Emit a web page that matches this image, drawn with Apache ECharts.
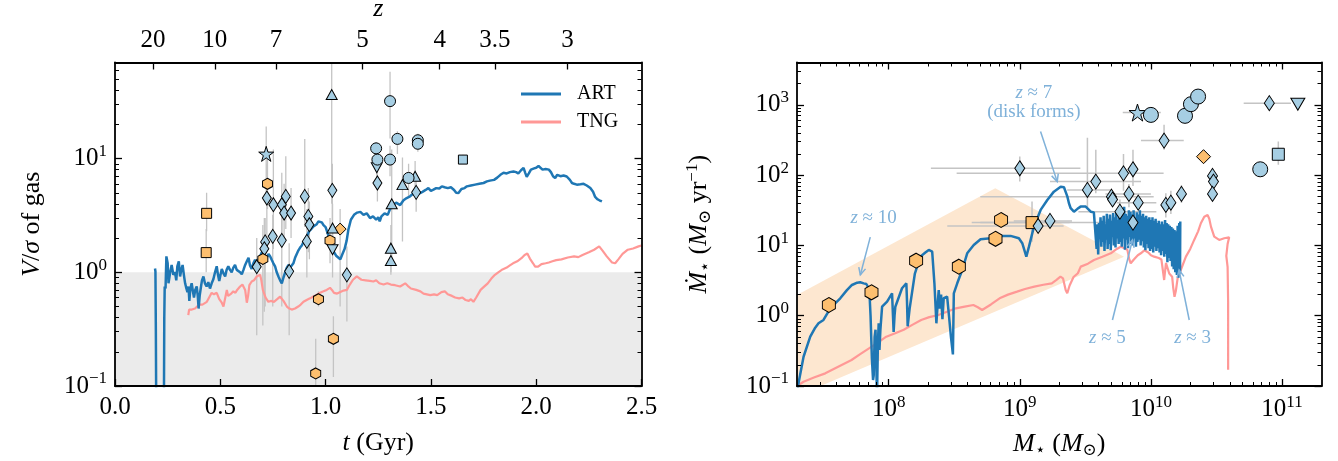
<!DOCTYPE html>
<html>
<head>
<meta charset="utf-8">
<script src="https://cdn.jsdelivr.net/npm/echarts@6/dist/echarts.min.js"></script>
<style>
  html, body { margin: 0; padding: 0; background: #fff; }
  #chart { width: 1338px; height: 461px; }
</style>
</head>
<body>
<div id="chart"></div>
<script>
// ---------- left panel: V/sigma of gas vs cosmic time ----------
// redshift labels of the top axis and the cosmic time (Gyr) at which each sits
const zTickLabels = ['20', '10', '7', '5', '4', '3.5', '3'];
const zTickAges   = [0.180, 0.474, 0.764, 1.175, 1.542, 1.804, 2.149];

// simulated tracks: [t (Gyr), V/sigma]
const artVsigma = [
  [0.190,1.08],[0.192,1.02],[0.194,0.30],[0.196,0.05],
  [0.232,0.05],[0.234,0.40],[0.236,0.75],[0.240,0.72],[0.244,1.38],[0.250,1.20],[0.254,0.80],[0.262,1.00],
  [0.269,1.16],[0.277,0.95],[0.285,1.00],[0.291,0.85],[0.296,1.13],[0.303,1.25],[0.309,0.92],[0.315,1.05],
  [0.321,1.16],[0.327,0.95],[0.333,0.80],[0.339,0.72],[0.344,0.67],[0.349,0.75],[0.353,0.56],[0.358,0.72],
  [0.364,0.80],[0.370,0.68],[0.375,0.60],[0.381,0.70],[0.388,0.75],[0.393,0.62],[0.397,0.48],[0.402,0.62],
  [0.407,0.72],[0.413,0.85],[0.420,0.92],[0.427,0.80],[0.435,0.75],[0.443,0.82],[0.451,0.72],[0.459,0.80],
  [0.467,0.87],[0.475,1.00],[0.483,1.13],[0.489,0.95],[0.495,0.84],[0.501,0.95],[0.507,1.07],[0.515,0.98],
  [0.523,0.92],[0.530,1.05],[0.538,1.13],[0.546,1.05],[0.554,1.00],[0.562,1.10],[0.570,1.16],[0.578,1.05],
  [0.586,1.09],[0.594,1.00],[0.602,0.96],[0.610,1.05],[0.618,1.16],[0.626,1.25],[0.634,1.34],[0.641,1.15],
  [0.649,1.07],[0.657,1.20],[0.665,1.29],[0.673,1.20],[0.681,1.23],[0.689,1.38],[0.697,1.50],[0.705,1.30],
  [0.713,1.23],[0.721,1.35],[0.729,1.45],[0.737,1.38],[0.744,1.29],[0.752,1.20],[0.760,1.13],[0.768,1.00],
  [0.776,0.92],[0.784,0.85],[0.792,0.80],[0.800,0.90],[0.808,1.00],[0.816,1.10],[0.824,1.16],[0.832,1.10],
  [0.839,1.09],[0.847,1.20],[0.855,1.34],[0.863,1.45],[0.871,1.56],[0.879,1.65],[0.887,1.72],[0.895,1.85],
  [0.903,1.93],[0.912,2.10],[0.922,2.30],[0.932,2.40],[0.942,2.53],[0.950,2.45],[0.958,2.65],[0.966,2.80],
  [0.974,2.70],[0.982,2.75],[0.990,2.60],[1.000,2.50],[1.010,2.20],[1.020,1.90],[1.030,1.70],[1.040,1.50],
  [1.050,1.40],[1.060,1.35],[1.070,1.30],[1.080,1.45],[1.090,1.60],[1.100,1.90],[1.108,2.37],[1.120,2.90],
  [1.135,3.20],[1.150,3.35],[1.165,3.40],[1.180,3.20],[1.195,3.30],[1.211,3.00],[1.225,3.10],[1.240,2.90],
  [1.250,3.05],[1.257,2.80],[1.265,3.10],[1.280,3.30],[1.295,3.20],[1.306,3.60],[1.320,3.90],[1.335,4.10],
  [1.354,3.90],[1.370,4.30],[1.385,4.50],[1.401,4.66],[1.415,4.90],[1.430,4.80],[1.449,4.98],[1.460,5.10],
  [1.475,5.30],[1.488,5.50],[1.500,5.20],[1.512,5.33],[1.525,5.50],[1.540,5.45],[1.552,5.70],[1.565,5.60],
  [1.580,5.50],[1.595,5.60],[1.610,5.30],[1.620,5.00],[1.631,4.98],[1.645,5.40],[1.660,5.50],[1.671,5.70],
  [1.690,5.80],[1.710,5.90],[1.730,6.00],[1.750,6.10],[1.766,6.30],[1.780,6.40],[1.800,6.50],[1.815,6.80],
  [1.830,7.20],[1.845,7.50],[1.860,7.40],[1.875,7.60],[1.892,7.70],[1.905,7.60],[1.915,7.40],[1.928,7.90],
  [1.940,8.30],[1.948,7.50],[1.955,6.90],[1.965,7.40],[1.975,8.00],[1.990,8.20],[2.000,8.30],[2.011,8.60],
  [2.020,8.30],[2.030,8.00],[2.045,8.10],[2.060,8.00],[2.070,7.60],[2.080,7.00],[2.090,6.75],[2.100,7.20],
  [2.115,7.00],[2.130,7.10],[2.145,6.96],[2.160,6.50],[2.170,6.10],[2.180,6.00],[2.193,5.90],[2.210,5.95],
  [2.225,6.00],[2.240,5.80],[2.257,5.50],[2.270,5.10],[2.280,4.60],[2.290,4.40],[2.300,4.30],[2.312,4.20]
];
const tngVsigma = [
  [0.348,0.42],[0.352,0.47],[0.365,0.47],[0.380,0.48],[0.390,0.50],[0.400,0.52],[0.415,0.52],[0.436,0.55],
  [0.447,0.60],[0.459,0.66],[0.470,0.64],[0.483,0.66],[0.495,0.58],[0.507,0.54],[0.515,0.50],[0.523,0.52],
  [0.531,0.70],[0.537,0.62],[0.545,0.60],[0.552,0.65],[0.562,0.68],[0.572,0.66],[0.580,0.70],[0.594,0.75],
  [0.605,0.78],[0.612,0.80],[0.618,0.70],[0.626,0.54],[0.632,0.62],[0.638,0.77],[0.649,0.83],[0.660,0.85],
  [0.673,0.92],[0.682,0.93],[0.689,0.95],[0.695,0.85],[0.702,0.70],[0.715,0.60],[0.728,0.55],[0.740,0.56],
  [0.755,0.55],[0.770,0.58],[0.784,0.61],[0.800,0.56],[0.816,0.50],[0.828,0.48],[0.839,0.47],[0.855,0.48],
  [0.870,0.50],[0.882,0.52],[0.895,0.55],[0.910,0.57],[0.926,0.59],[0.940,0.61],[0.955,0.63],[0.974,0.66],
  [0.990,0.68],[1.005,0.70],[1.021,0.73],[1.030,0.70],[1.040,0.66],[1.055,0.65],[1.070,0.67],[1.085,0.69],
  [1.101,0.70],[1.115,0.78],[1.130,0.86],[1.148,0.92],[1.156,0.89],[1.170,0.86],[1.190,0.85],[1.210,0.84],
  [1.227,0.83],[1.240,0.85],[1.255,0.80],[1.275,0.78],[1.293,0.80],[1.310,0.78],[1.330,0.77],[1.354,0.75],
  [1.378,0.80],[1.390,0.76],[1.405,0.72],[1.430,0.70],[1.450,0.68],[1.465,0.65],[1.497,0.63],[1.515,0.64],
  [1.530,0.63],[1.550,0.67],[1.566,0.68],[1.580,0.64],[1.600,0.62],[1.615,0.60],[1.634,0.59],[1.650,0.60],
  [1.665,0.57],[1.680,0.56],[1.690,0.58],[1.702,0.55],[1.715,0.60],[1.736,0.70],[1.750,0.74],[1.770,0.80],
  [1.787,0.88],[1.804,0.95],[1.820,1.00],[1.840,1.06],[1.860,1.10],[1.875,1.15],[1.890,1.20],[1.910,1.25],
  [1.930,1.33],[1.945,1.42],[1.958,1.46],[1.970,1.32],[1.985,1.20],[1.995,1.12],[2.009,1.12],[2.025,1.18],
  [2.045,1.20],[2.060,1.22],[2.077,1.25],[2.095,1.28],[2.120,1.30],[2.150,1.35],[2.180,1.38],[2.200,1.36],
  [2.220,1.42],[2.250,1.50],[2.275,1.58],[2.299,1.69],[2.315,1.55],[2.335,1.38],[2.360,1.22],[2.375,1.20],
  [2.390,1.30],[2.410,1.45],[2.435,1.58],[2.460,1.62],[2.486,1.69],[2.500,1.72]
];

// observed galaxies: [t (Gyr), V/sigma, lower, upper]
const obsBlueDiamonds = [
  [0.721,4.50,2.0,9.0],[0.752,3.93,1.6,12.0],[0.792,3.93,2.2,7.5],[0.811,4.65,2.4,10.5],
  [0.803,3.32,1.8,6.0],[0.836,3.32,2.0,5.5],[0.901,4.65,2.5,14.9],[0.918,3.10,1.5,5.5],
  [0.923,2.62,1.3,4.2],[0.911,1.87,0.9,3.6],[0.749,2.07,0.5,3.2],[0.792,1.91,0.5,3.6],
  [0.713,1.85,0.5,3.0],[0.709,1.61,0.45,3.0],[0.673,1.12,0.28,2.0],[0.827,1.02,0.28,1.8],
  [1.032,5.26,1.6,9.0],[1.101,0.95,0.37,1.69],[1.246,6.10,4.2,9.0],[1.430,5.05,3.4,7.2]
];
const obsOrangeHexagons = [
  [0.724,6.00,3.6,12.0],[0.702,1.31,0.34,2.6],[1.021,1.90,1.2,3.0],
  [0.966,0.58,0.5,0.68],[1.037,0.26,0.12,0.41],[0.953,0.129,0.1,0.26]
];
const obsOrangeSquares  = [[0.435,3.30,2.3,5.0],[0.433,1.49,1.0,2.4]];
const obsOrangeDiamonds = [[1.069,2.40,0.5,3.6]];
const obsBlueStars      = [[0.718,11.0,4.5,19.2]];
const obsBlueTriUp = [
  [1.029,36.6,4.0,200],[1.033,2.45,1.5,4.0],[1.314,4.00,1.2,12.0],[1.310,1.63,1.0,2.6],
  [1.310,1.27,0.95,1.6],[1.365,5.90,1.87,10.2],[1.425,6.98,5.0,9.5]
];
const obsBlueTriDown = [[1.033,1.58,0.9,2.5],[1.243,8.30,6.2,11.0]];
const obsBlueCircles = [
  [1.306,32.0,15,58],[1.341,14.9,11,17.4],[1.438,14.5,12.5,16.5],[1.438,13.5,11.5,15.5],
  [1.240,12.3,10,14],[1.246,9.8,8,12],[1.306,9.8,7,13],[1.394,6.76,4.5,9]
];
const obsBlueSquares = [[1.652,9.8,9.0,10.8]];

// ---------- right panel: SFR vs stellar mass ----------
// tracks as pairs of [log10 M*, log10 SFR]
const artSfrLog = [
  [7.300,-1.10],[7.310,-0.986],[7.351,-0.584],[7.402,-0.299],[7.440,-0.170],[7.465,-0.108],[7.503,-0.061],
  [7.555,0.105],[7.600,0.190],[7.631,0.248],[7.680,0.360],[7.720,0.437],[7.760,0.470],[7.783,0.475],
  [7.810,0.460],[7.830,0.451],[7.845,0.400],[7.855,0.270],[7.862,0.000],[7.872,-0.600],[7.881,-0.915],
  [7.886,-0.850],[7.893,-0.300],[7.900,-0.200],[7.906,-0.700],[7.911,-1.200],[7.918,-0.400],[7.924,-0.108],
  [7.930,-0.488],[7.937,-0.200],[7.950,0.128],[7.988,0.200],[8.026,0.319],[8.033,0.000],[8.038,-0.230],
  [8.045,0.000],[8.051,0.128],[8.102,0.390],[8.135,0.461],[8.140,0.200],[8.145,-0.150],[8.160,0.100],
  [8.200,0.600],[8.242,0.840],[8.280,0.900],[8.306,0.935],[8.332,0.911],[8.349,0.461],[8.364,-0.108],
  [8.375,0.200],[8.382,0.366],[8.390,0.100],[8.400,0.300],[8.410,-0.050],[8.420,0.250],[8.446,0.270],
  [8.460,0.000],[8.475,-0.300],[8.490,-0.550],[8.497,0.319],[8.523,0.461],[8.561,0.650],[8.599,0.888],
  [8.649,1.006],[8.701,1.088],[8.777,1.102],[8.853,1.135],[8.930,1.135],[8.993,1.102],[9.019,1.031],
  [9.050,0.840],[9.070,0.982],[9.108,1.267],[9.159,1.505],[9.210,1.647],[9.260,1.765],[9.312,1.836],
  [9.337,1.828],[9.363,1.694],[9.375,1.600],[9.388,1.529],[9.413,1.480],[9.440,1.520],[9.464,1.552],
  [9.503,1.552],[9.541,1.480],[9.565,1.470],[9.580,1.46],[9.586,0.95],[9.592,1.30],[9.598,0.87],[9.604,1.32],
  [9.610,1.10],[9.616,1.40],[9.622,0.98],[9.628,1.35],[9.634,1.05],[9.640,1.42],[9.646,0.92],[9.652,1.30],
  [9.658,1.08],[9.664,1.45],[9.670,0.95],[9.676,1.38],[9.682,1.02],[9.688,1.44],[9.694,0.93],[9.700,1.35],
  [9.706,1.12],[9.712,1.46],[9.718,1.00],[9.724,1.40],[9.730,0.97],[9.736,1.48],[9.742,1.10],[9.748,1.36],
  [9.754,1.02],[9.760,1.50],[9.766,1.05],[9.772,1.42],[9.778,0.98],[9.784,1.52],[9.790,1.10],[9.796,1.55],
  [9.802,0.94],[9.808,1.45],[9.814,1.08],[9.820,1.42],[9.826,0.96],[9.832,1.50],[9.838,1.12],[9.844,1.48],
  [9.850,1.02],[9.856,1.44],[9.862,1.00],[9.868,1.50],[9.874,1.10],[9.880,1.40],[9.886,0.98],[9.892,1.47],
  [9.898,1.05],[9.904,1.44],[9.910,1.08],[9.916,1.50],[9.922,1.00],[9.928,1.42],[9.934,1.06],[9.940,1.45],
  [9.946,0.97],[9.952,1.40],[9.958,0.93],[9.964,1.42],[9.970,1.02],[9.976,1.38],[9.982,0.96],[9.988,1.40],
  [9.994,0.92],[10.000,1.36],[10.006,0.95],[10.012,1.40],[10.018,0.90],[10.024,1.35],[10.030,0.98],
  [10.036,1.38],[10.042,0.92],[10.048,1.32],[10.054,0.96],[10.060,1.35],[10.066,0.90],[10.072,1.30],
  [10.078,0.86],[10.084,1.34],[10.090,0.92],[10.096,1.30],[10.102,0.84],[10.108,1.36],[10.114,0.88],
  [10.120,1.32],[10.126,0.76],[10.132,1.30],[10.138,0.82],[10.144,1.28],[10.150,0.78],[10.156,1.26],
  [10.162,0.70],[10.168,1.24],[10.174,0.66],[10.180,1.22],[10.186,0.62],[10.192,1.20],[10.198,0.58],
  [10.204,1.28],[10.210,0.54],[10.216,1.32],[10.222,0.60],[10.224,1.34]
];
const tngSfrLog = [
  [7.300,-1.000],[7.351,-0.939],[7.430,-0.880],[7.517,-0.820],[7.600,-0.740],[7.717,-0.630],[7.780,-0.550],
  [7.850,-0.464],[7.920,-0.380],[7.982,-0.299],[8.050,-0.250],[8.115,-0.200],[8.180,-0.130],[8.248,-0.060],
  [8.310,-0.020],[8.380,0.010],[8.450,0.060],[8.513,0.105],[8.580,0.130],[8.646,0.152],[8.680,0.120],
  [8.713,0.081],[8.780,0.160],[8.846,0.248],[8.910,0.300],[8.979,0.342],[9.040,0.380],[9.111,0.413],
  [9.180,0.440],[9.244,0.461],[9.280,0.510],[9.310,0.555],[9.330,0.530],[9.350,0.366],[9.362,0.320],
  [9.380,0.430],[9.410,0.550],[9.443,0.604],[9.465,0.698],[9.520,0.740],[9.566,0.793],[9.630,0.840],
  [9.694,0.888],[9.740,0.950],[9.770,0.982],[9.800,0.960],[9.821,0.935],[9.835,0.800],[9.846,0.746],
  [9.870,0.800],[9.900,0.860],[9.923,0.888],[9.950,0.930],[9.980,0.900],[10.000,0.860],[10.025,0.840],
  [10.060,0.820],[10.080,0.800],[10.101,0.508],[10.115,0.750],[10.140,0.600],[10.162,0.555],[10.170,0.400],
  [10.180,0.270],[10.190,0.350],[10.205,0.550],[10.228,0.650],[10.267,0.840],[10.300,0.950],[10.330,1.078],
  [10.360,1.200],[10.381,1.315],[10.407,1.409],[10.432,1.433],[10.445,1.380],[10.458,1.267],[10.483,1.125],
  [10.521,1.078],[10.559,1.102],[10.597,1.116],[10.585,1.020],[10.575,0.850],[10.585,0.690],[10.589,0.200],
  [10.589,-0.770]
];

// shaded main-sequence region, corners as [M*, SFR]
const bandCorners = [[2.0e7,1.97],[6.5e8,65],[6.24e9,6.9],[2.0e7,0.072]];

// observed galaxies: [M*, SFR, M lower, M upper, SFR lower, SFR upper]
const msOrangeHexagons = [[3.5e7,1.42],[7.4e7,2.15],[1.62e8,6.07],[3.43e8,4.98],[6.53e8,12.4],[7.2e8,23]];
const msOrangeSquares  = [[1.24e9,21.1,5.0e8,2.4e9,11.3,42]];
const msOrangeDiamonds = [[2.52e10,183]];
const msBlueDiamonds = [
  [1.0e9,125,2.1e8,2.9e9,81,184],[1.38e9,18.9,2.8e8,2.16e9,null,null],[1.7e9,22.3,9.0e8,2.5e9,null,null],
  [3.28e9,61.6,2.3e9,4.9e9,35,339],[3.8e9,80.8,1.7e9,8.4e9,55,230],[5.0e9,49.4,5.0e8,1.05e10,null,null],
  [5.1e9,45,null,null,null,null],[6.18e9,106,3.3e8,1.25e10,60,200],[7.3e9,121,null,null,70,230],
  [6.8e9,54,4.5e9,1.0e10,35,75],[8.0e9,40.6,5.5e9,1.1e10,null,null],[5.8e9,30.2,2.8e9,1.1e10,20,45],
  [7.3e9,21.1,4.3e8,1.1e10,null,null],[1.3e10,37.7,null,null,25,55],[1.42e10,40.6,null,null,28,60],
  [1.71e10,54,null,null,40,72],[1.26e10,310,8.4e9,1.78e10,229,519],[2.95e10,97.4,null,null,null,null],
  [3.0e10,80.8,null,null,50,110],[2.95e10,54,null,null,null,null],[8.0e10,1055,5.1e10,1.17e11,null,null]
];
const msBlueStars    = [[7.9e9,776,6.1e9,1.19e10,null,null]];
const msBlueCircles  = [[1.0e10,719],[1.82e10,697],[2.02e10,1021],[2.29e10,1310],[6.82e10,121]];
const msBlueTriDown  = [[1.32e11,1021]];
const msBlueSquares  = [[9.37e10,198,null,null,140,300]];

// redshift call-outs: label position, arrow tail, arrow head (all [M*, SFR])
const msNotes = [
  { text: '{i|z} ≈ 10', at: [7.68e7, 24.3], from: [7.24e7, 13.1], to: [6.08e7, 3.8] },
  { text: '{i|z} ≈ 7\n(disk forms)', at: [1.28e9, 1084], from: [1.44e9, 416], to: [1.93e9, 80.8] },
  { text: '{i|z} ≈ 5', at: [4.66e9, 0.477], from: [5.09e9, 0.869], to: [7.24e9, 11.97] },
  { text: '{i|z} ≈ 3', at: [2.08e10, 0.477], from: [1.96e10, 0.869], to: [1.64e10, 4.47] }
];

// ---------- styling ----------
const SERIF = "'Liberation Serif', 'DejaVu Serif', serif";
const C_ART = '#1f77b4', C_TNG = '#ff9896';
const C_BLUE = '#a6cee3', C_ORANGE = '#fdbf6f';
const C_NOTE = '#7fb1d9';
const C_ERR = '#c4c4c4';

const SYM_HEX = 'path://M0,-10L8.66,-5L8.66,5L0,10L-8.66,5L-8.66,-5Z';
const SYM_TRI_UP = 'path://M-10,8.66L10,8.66L0,-8.66Z';
const SYM_TRI_DOWN = 'path://M-10,-8.66L10,-8.66L0,8.66Z';
const SYM_STAR = 'path://M0,-10L2.245,-3.09L9.511,-3.09L3.633,1.18L5.878,8.09L0,3.82L-5.878,8.09L-3.633,1.18L-9.511,-3.09L-2.245,-3.09Z';

const fromLog = arr => arr.map(p => [Math.pow(10, p[0]), Math.pow(10, p[1])]);

function decadeMinors(lo, hi) {
  const out = [];
  for (let e = lo; e <= hi; e++) for (let k = 2; k <= 9; k++) out.push(k * Math.pow(10, e));
  return out;
}
const supLabel = v => {
  const e = Math.round(Math.log10(v));
  return '{b|10}{s|' + (e < 0 ? '\u2212' + (-e) : e) + '}';
};
const powRich = {
  b: { fontSize: 25, fontFamily: SERIF, color: '#000' },
  s: { fontSize: 17, fontFamily: SERIF, color: '#000', padding: [0, 0, 14, 0] }
};
const nameRich = {
  i: { fontStyle: 'italic', fontSize: 26, fontFamily: SERIF, color: '#000' },
  sub: { fontSize: 17, fontFamily: SERIF, color: '#000', padding: [12, 0, 0, 0] },
  sup: { fontSize: 17, fontFamily: SERIF, color: '#000', padding: [0, 0, 14, 0] }
};
const nameStyle = { fontSize: 26, fontFamily: SERIF, color: '#000', rich: nameRich };
const spine = { show: true, lineStyle: { color: '#000', width: 1.8 } };
const tickStyle = { color: '#000', width: 1.3 };

function majorAxis(base, values, withLabels, extra) {
  return Object.assign({
    z: 10,
    axisLine: spine,
    axisTick: { show: true, inside: true, length: 7, lineStyle: tickStyle, customValues: values },
    axisLabel: withLabels
      ? { show: true, customValues: values, formatter: supLabel, rich: powRich, margin: 8 }
      : { show: false },
    splitLine: { show: false }
  }, base, extra || {});
}
function minorAxis(base, values) {
  return Object.assign({
    z: 10,
    axisLine: { show: false },
    axisTick: { show: true, inside: true, length: 4, lineStyle: { color: '#000', width: 1 }, customValues: values },
    axisLabel: { show: false },
    splitLine: { show: false }
  }, base);
}

// ---------- axes ----------
const leftYBase = { gridIndex: 0, type: 'log', logBase: 10, min: 0.1, max: 70 };
const rightXBase = { gridIndex: 1, type: 'log', logBase: 10, min: 2e7, max: 2e11 };
const rightYBase = { gridIndex: 1, type: 'log', logBase: 10, min: 0.1, max: 4000 };
const leftYMinor = decadeMinors(-1, 0).concat([20, 30, 40, 50, 60]);
const rightYMinor = decadeMinors(-1, 2).concat([2000, 3000]);
const rightXMinor = decadeMinors(7, 10).filter(v => v > 2e7 && v < 2e11);

const xAxes = [
  { // 0: left bottom, cosmic time
    gridIndex: 0, type: 'value', min: 0, max: 2.5, interval: 0.5, position: 'bottom', z: 10,
    axisLine: spine,
    axisTick: { show: true, inside: true, length: 7, lineStyle: tickStyle },
    axisLabel: { fontSize: 25, fontFamily: SERIF, color: '#000', margin: 9, formatter: v => v.toFixed(1) },
    splitLine: { show: false },
    name: '{i|t} (Gyr)', nameLocation: 'middle', nameGap: 44, nameTextStyle: nameStyle
  },
  { // 1: left top, redshift
    gridIndex: 0, type: 'value', min: 0, max: 2.5, position: 'top', z: 10,
    axisLine: spine,
    axisTick: { show: true, inside: true, length: 7, lineStyle: tickStyle, customValues: zTickAges },
    axisLabel: { show: true, customValues: zTickAges, fontSize: 25, fontFamily: SERIF, color: '#000', margin: 10,
      formatter: v => zTickLabels[zTickAges.indexOf(v)] },
    splitLine: { show: false },
    name: 'z', nameLocation: 'middle', nameGap: 39,
    nameTextStyle: { fontSize: 26, fontFamily: SERIF, fontStyle: 'italic', color: '#000' }
  },
  majorAxis(Object.assign({ position: 'bottom' }, rightXBase), [1e8, 1e9, 1e10, 1e11], true,
    { name: '{i|M}{sub|⋆} ({i|M}{sub|⊙})', nameLocation: 'middle', nameGap: 44, nameTextStyle: nameStyle }),
  minorAxis(Object.assign({ position: 'bottom' }, rightXBase), rightXMinor),
  majorAxis(Object.assign({ position: 'top' }, rightXBase), [1e8, 1e9, 1e10, 1e11], false),
  minorAxis(Object.assign({ position: 'top' }, rightXBase), rightXMinor)
];
const yAxes = [
  majorAxis(Object.assign({ position: 'left' }, leftYBase), [0.1, 1, 10], true,
    { name: '{i|V}/{i|σ} of gas', nameLocation: 'middle', nameGap: 70, nameTextStyle: nameStyle }),
  minorAxis(Object.assign({ position: 'left' }, leftYBase), leftYMinor),
  majorAxis(Object.assign({ position: 'right' }, leftYBase), [0.1, 1, 10], false),
  minorAxis(Object.assign({ position: 'right' }, leftYBase), leftYMinor),
  majorAxis(Object.assign({ position: 'left' }, rightYBase), [0.1, 1, 10, 100, 1000], true,
    { name: '{i|Ṁ}{sub|⋆} ({i|M}{sub|⊙} yr{sup|−1})', nameLocation: 'middle', nameGap: 82, nameTextStyle: nameStyle }),
  minorAxis(Object.assign({ position: 'left' }, rightYBase), rightYMinor),
  majorAxis(Object.assign({ position: 'right' }, rightYBase), [0.1, 1, 10, 100, 1000], false),
  minorAxis(Object.assign({ position: 'right' }, rightYBase), rightYMinor)
];

// ---------- series helpers ----------
function markers(rows, xi, yi, symbol, size, fill) {
  return {
    type: 'scatter', xAxisIndex: xi, yAxisIndex: yi, silent: true, z: 5,
    data: rows.map(r => [r[0], r[1]]),
    symbol: symbol, symbolSize: size,
    itemStyle: { color: fill, borderColor: '#000', borderWidth: 1, opacity: 1 }
  };
}
// vertical error bars for [x, y, ylo, yhi]
function vErrors(rows, xi, yi) {
  return {
    type: 'custom', xAxisIndex: xi, yAxisIndex: yi, silent: true, clip: true, z: 1,
    data: rows.map(r => [r[0], r[1]]),
    renderItem: (params, api) => {
      const r = rows[params.dataIndex];
      const a = api.coord([r[0], r[2]]), b = api.coord([r[0], r[3]]);
      return { type: 'line', shape: { x1: a[0], y1: a[1], x2: b[0], y2: b[1] },
        style: { stroke: C_ERR, lineWidth: 1.3 } };
    }
  };
}
// cross error bars for [x, y, xlo, xhi, ylo, yhi]
function xyErrors(rows, xi, yi) {
  return {
    type: 'custom', xAxisIndex: xi, yAxisIndex: yi, silent: true, clip: true, z: 1,
    data: rows.map(r => [r[0], r[1]]),
    renderItem: (params, api) => {
      const r = rows[params.dataIndex];
      const kids = [];
      if (r[2] != null) {
        const a = api.coord([r[2], r[1]]), b = api.coord([r[3], r[1]]);
        kids.push({ type: 'line', shape: { x1: a[0], y1: a[1], x2: b[0], y2: b[1] }, style: { stroke: C_ERR, lineWidth: 1.5 } });
      }
      if (r[4] != null) {
        const a = api.coord([r[0], r[4]]), b = api.coord([r[0], r[5]]);
        kids.push({ type: 'line', shape: { x1: a[0], y1: a[1], x2: b[0], y2: b[1] }, style: { stroke: C_ERR, lineWidth: 1.5 } });
      }
      return { type: 'group', children: kids };
    }
  };
}
function track(name, data, xi, yi, color, width, z) {
  return {
    type: 'line', name: name, xAxisIndex: xi, yAxisIndex: yi, data: data, silent: true, z: z,
    showSymbol: false, symbol: 'none', clip: true,
    lineStyle: { color: color, width: width }, itemStyle: { color: color }
  };
}

const leftErrRows = [].concat(obsBlueDiamonds, obsOrangeHexagons, obsOrangeSquares, obsOrangeDiamonds,
  obsBlueStars, obsBlueTriUp, obsBlueTriDown, obsBlueCircles, obsBlueSquares);
const rightErrRows = [].concat(msOrangeSquares, msBlueDiamonds, msBlueStars, msBlueSquares)
  .filter(r => r.length > 2);

const series = [
  { // grey region where V/sigma < 1
    type: 'custom', xAxisIndex: 0, yAxisIndex: 0, silent: true, clip: true, z: 0,
    data: [[0, 0.1]],
    renderItem: (params, api) => {
      const a = api.coord([0, 1]), b = api.coord([2.5, 0.1]);
      return { type: 'rect', shape: { x: a[0], y: a[1], width: b[0] - a[0], height: b[1] - a[1] },
        style: { fill: '#ebebeb' } };
    }
  },
  vErrors(leftErrRows, 0, 0),
  track('ART', artVsigma, 0, 0, C_ART, 2.5, 3),
  track('TNG', tngVsigma, 0, 0, C_TNG, 2.2, 2),
  markers(obsBlueDiamonds, 0, 0, 'diamond', [9, 14], C_BLUE),
  markers(obsOrangeHexagons, 0, 0, SYM_HEX, [10, 11], C_ORANGE),
  markers(obsOrangeSquares, 0, 0, 'rect', 10, C_ORANGE),
  markers(obsOrangeDiamonds, 0, 0, 'diamond', [12, 12], C_ORANGE),
  markers(obsBlueStars, 0, 0, SYM_STAR, 15, C_BLUE),
  markers(obsBlueTriUp, 0, 0, SYM_TRI_UP, [11, 10], C_BLUE),
  markers(obsBlueTriDown, 0, 0, SYM_TRI_DOWN, [11, 10], C_BLUE),
  markers(obsBlueCircles, 0, 0, 'circle', 11, C_BLUE),
  markers(obsBlueSquares, 0, 0, 'rect', 9, C_BLUE),

  { // main-sequence band
    type: 'custom', xAxisIndex: 2, yAxisIndex: 4, silent: true, clip: true, z: 0,
    data: [bandCorners[0]],
    renderItem: (params, api) => ({
      type: 'polygon', shape: { points: bandCorners.map(p => api.coord(p)) },
      style: { fill: '#fde7d0' }
    })
  },
  xyErrors(rightErrRows, 2, 4),
  track('TNG', fromLog(tngSfrLog), 2, 4, C_TNG, 2.2, 2),
  track('ART', fromLog(artSfrLog), 2, 4, C_ART, 2.5, 3),
  markers(msOrangeHexagons, 2, 4, SYM_HEX, [13, 15], C_ORANGE),
  markers(msOrangeSquares, 2, 4, 'rect', 12, C_ORANGE),
  markers(msOrangeDiamonds, 2, 4, 'diamond', [14, 14], C_ORANGE),
  markers(msBlueDiamonds, 2, 4, 'diamond', [10, 15], C_BLUE),
  markers(msBlueStars, 2, 4, SYM_STAR, 17, C_BLUE),
  markers(msBlueCircles, 2, 4, 'circle', 15, C_BLUE),
  markers(msBlueTriDown, 2, 4, SYM_TRI_DOWN, [14, 12], C_BLUE),
  markers(msBlueSquares, 2, 4, 'rect', 12, C_BLUE),
  { // redshift call-outs with arrows
    type: 'custom', xAxisIndex: 2, yAxisIndex: 4, silent: true, clip: false, z: 6,
    data: msNotes.map(n => n.at),
    renderItem: (params, api) => {
      const n = msNotes[params.dataIndex];
      const p = api.coord(n.at), a = api.coord(n.from), b = api.coord(n.to);
      const ang = Math.atan2(b[1] - a[1], b[0] - a[0]);
      const hl = 8, hw = 0.45;
      const h1 = [b[0] - hl * Math.cos(ang - hw), b[1] - hl * Math.sin(ang - hw)];
      const h2 = [b[0] - hl * Math.cos(ang + hw), b[1] - hl * Math.sin(ang + hw)];
      return { type: 'group', children: [
        { type: 'text', x: p[0], y: p[1], style: {
          text: n.text, fill: C_NOTE, font: '19px ' + SERIF, align: 'center', verticalAlign: 'middle', lineHeight: 19,
          rich: { i: { fontStyle: 'italic', fontSize: 19, fontFamily: SERIF, fill: C_NOTE } } } },
        { type: 'line', shape: { x1: a[0], y1: a[1], x2: b[0], y2: b[1] }, style: { stroke: C_NOTE, lineWidth: 1.5 } },
        { type: 'polyline', shape: { points: [h1, b, h2] }, style: { stroke: C_NOTE, lineWidth: 1.5, fill: null } }
      ] };
    }
  }
];

const chart = echarts.init(document.getElementById('chart'), null, { renderer: 'canvas' });
chart.setOption({
  animation: false,
  backgroundColor: '#fff',
  textStyle: { fontFamily: SERIF },
  grid: [
    { left: 115, top: 62.5, width: 526.5, height: 323.5, outerBoundsMode: 'none' },
    { left: 797, top: 62.5, width: 524.5, height: 323.5, outerBoundsMode: 'none' }
  ],
  legend: {
    data: ['ART', 'TNG'], orient: 'vertical', left: 516, top: 79, itemGap: 8,
    icon: 'rect', itemWidth: 40, itemHeight: 3,
    textStyle: { fontSize: 20, fontFamily: SERIF, color: '#000', lineHeight: 20, padding: [0, 0, 0, 11] },
    selectedMode: false
  },
  xAxis: xAxes,
  yAxis: yAxes,
  series: series
});
</script>
</body>
</html>
